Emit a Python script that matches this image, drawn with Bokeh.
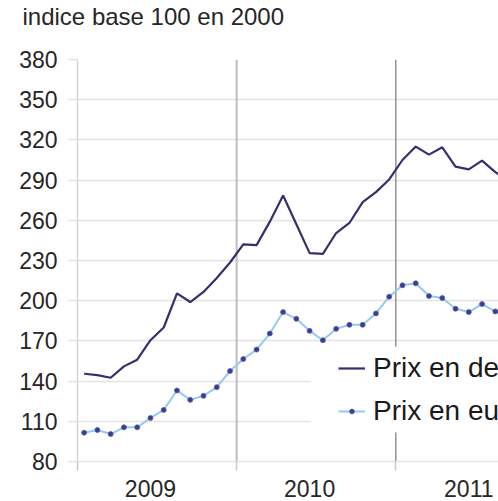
from bokeh.plotting import figure
from bokeh.models import (FixedTicker, Span, Legend, LegendItem, Title, BoxAnnotation,
                          Range1d, ColumnDataSource)
from bokeh.embed import file_html
from bokeh.resources import INLINE

# ---- data ----
months = ["2009-01", "2009-02", "2009-03", "2009-04", "2009-05", "2009-06",
          "2009-07", "2009-08", "2009-09", "2009-10", "2009-11", "2009-12",
          "2010-01", "2010-02", "2010-03", "2010-04", "2010-05", "2010-06",
          "2010-07", "2010-08", "2010-09", "2010-10", "2010-11", "2010-12",
          "2011-01", "2011-02", "2011-03", "2011-04", "2011-05", "2011-06",
          "2011-07", "2011-08", "2011-09"]
prix_devises = [145.5, 144.5, 142.5, 151.0, 156.0, 170.5, 180.0, 205.5, 199.0, 206.5,
                217.0, 228.5, 242.0, 241.5, 259.0, 278.5, 257.0, 235.5, 235.0, 250.5,
                258.0, 273.5, 281.0, 290.5, 305.0, 315.0, 309.0, 314.5, 300.0, 298.0,
                304.5, 296.0, 289.0]
prix_euros = [101.5, 103.5, 100.5, 105.5, 105.5, 112.5, 118.5, 133.0, 126.0, 129.0,
              135.5, 147.5, 156.5, 163.5, 175.5, 191.5, 186.5, 177.5, 170.5, 179.0,
              182.0, 182.0, 190.5, 203.0, 211.5, 213.0, 203.5, 202.0, 194.0, 191.5,
              197.5, 192.0, 191.0]
year_labels = ["2009", "2010", "2011"]
y_ticks = [80, 110, 140, 170, 200, 230, 260, 290, 320, 350, 380]
series_names = ["Prix en devises", "Prix en euros"]
title_text = "indice base 100 en 2000"

# decimal time at mid-month
xs = [int(m[:4]) + (int(m[5:]) - 0.5) / 12 for m in months]
year_starts = [int(y) for y in year_labels]
label_pos = [y + 5.5 / 12 for y in year_starts]

FONT = "Liberation Sans"
TXT = "#262626"
GRID = "#e4e4e4"

p = figure(width=498, height=501, output_backend="svg", toolbar_location=None,
           x_range=Range1d(2009.0, 2011.645), y_range=Range1d(80, 380),
           min_border_left=77, min_border_right=0, min_border_top=58,
           min_border_bottom=40)
p.outline_line_color = None
p.background_fill_color = "white"

# axes
p.yaxis.ticker = FixedTicker(ticks=y_ticks, minor_ticks=[])
p.yaxis.major_tick_out = 9
p.yaxis.major_tick_in = 0
p.yaxis.major_tick_line_color = GRID
p.yaxis.major_tick_line_width = 1.5
p.yaxis.axis_line_color = "#d4d4d4"
p.yaxis.axis_line_width = 1.5
p.yaxis.major_label_standoff = 11
p.yaxis.major_label_text_font = FONT
p.yaxis.major_label_text_font_size = "23px"
p.yaxis.major_label_text_color = TXT

p.xaxis.ticker = FixedTicker(ticks=label_pos, minor_ticks=year_starts)
p.xaxis.major_label_overrides = {m: l for m, l in zip(label_pos, year_labels)}
p.xaxis.major_tick_out = 0
p.xaxis.major_tick_in = 0
p.xaxis.minor_tick_out = 9
p.xaxis.minor_tick_in = 0
p.xaxis.minor_tick_line_color = "#c8c8c8"
p.xaxis.minor_tick_line_width = 1.5
p.xaxis.axis_line_color = GRID
p.xaxis.axis_line_width = 1.5
p.xaxis.major_label_standoff = 9
p.xaxis.major_label_text_font = FONT
p.xaxis.major_label_text_font_size = "23px"
p.xaxis.major_label_text_color = TXT

p.xgrid.visible = False
p.ygrid.ticker = FixedTicker(ticks=y_ticks)
p.ygrid.grid_line_color = GRID
p.ygrid.grid_line_width = 1.5

# year separators
p.add_layout(Span(location=year_starts[1], dimension="height", line_color="#bdbdbd",
                  line_width=2, level="underlay"))
p.add_layout(Span(location=year_starts[2], dimension="height", line_color="#777777",
                  line_width=1.2, level="underlay"))

src = ColumnDataSource(dict(x=xs, d=prix_devises, e=prix_euros))
r_d = p.line("x", "d", source=src, line_color="#34306e", line_width=2.2)
r_e = p.line("x", "e", source=src, line_color="#92cbef", line_width=2)
r_es = p.scatter("x", "e", source=src, size=5, fill_color="#3b3d8c",
                 line_color="#5a5fb0", line_width=0.8)

# white area behind legend
p.add_layout(BoxAnnotation(left=2010.466, right=2011.645, bottom=101.6, top=165.6,
                           fill_color="white", fill_alpha=1.0, line_color=None,
                           level="overlay"))

legend = Legend(items=[LegendItem(label=series_names[0], renderers=[r_d]),
                       LegendItem(label=series_names[1], renderers=[r_e, r_es])],
                location=(261, 34), orientation="vertical",
                background_fill_color="white", background_fill_alpha=1.0,
                border_line_color=None, padding=9, spacing=11,
                label_height=30, glyph_height=12, glyph_width=27,
                label_standoff=8, label_text_font=FONT,
                label_text_font_size="28px", label_text_color="#1a1a1a")
p.add_layout(legend)

# title (a trailing empty line lifts it above the frame)
p.add_layout(Title(text=title_text + "\n ", align="left", offset=-55, standoff=2,
                   text_font=FONT, text_font_size="24px", text_color=TXT,
                   text_line_height=1.05, text_font_style="normal"), "above")

open("out.html", "w").write(file_html(p, INLINE))
